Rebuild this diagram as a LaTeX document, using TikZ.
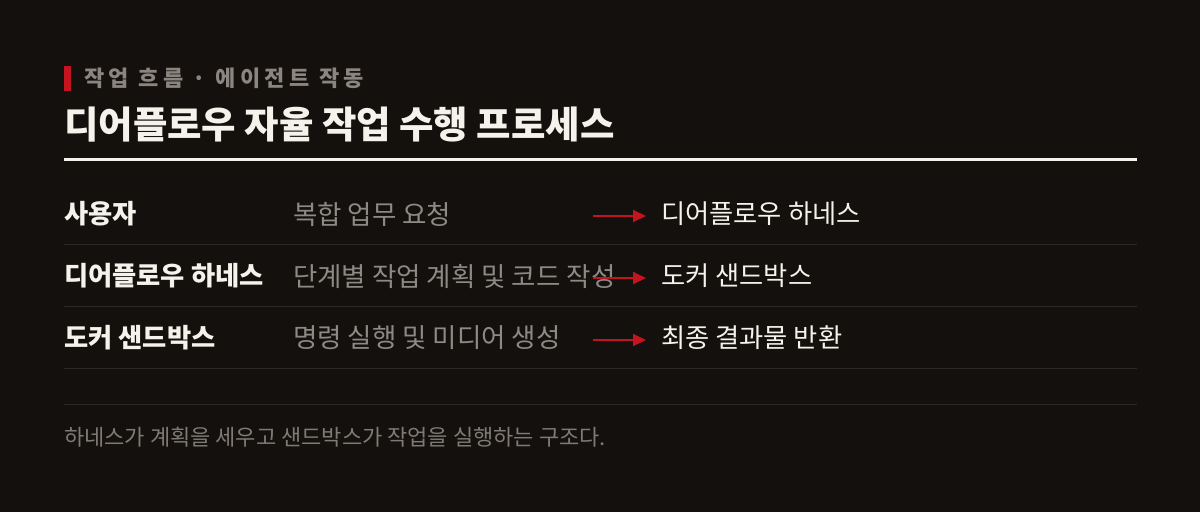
\documentclass[tikz,border=0pt]{standalone}
\usepackage{fontspec}
\usepackage{tikz}
\usetikzlibrary{positioning, arrows.meta}
\setmainfont{Noto Sans CJK KR}

\definecolor{bgdark}{HTML}{13100E}
\definecolor{accentred}{HTML}{C3141F}
\definecolor{paper}{HTML}{F5F2EC}
\definecolor{mutedgray}{HTML}{8D8985}
\definecolor{kickergray}{HTML}{8B8580}
\definecolor{footgray}{HTML}{7F7A75}
\definecolor{ruleline}{HTML}{2D2926}

\tikzset{
    role/.style={anchor=west, inner sep=0pt, text=paper, font=\fontsize{26.3}{30}\selectfont\bfseries},
    task/.style={anchor=west, inner sep=0pt, text=mutedgray, font=\fontsize{26.5}{30}\selectfont},
    target/.style={anchor=west, inner sep=0pt, text=paper, font=\fontsize{26.3}{30}\selectfont},
    flow/.style={draw=accentred, line width=2pt, -{Triangle[length=13pt, width=12pt]}, shorten >=15pt},
    sepline/.style={draw=ruleline, line width=1pt}
}

\begin{document}
\begin{tikzpicture}[x=1pt, y=-1pt]
    \fill [bgdark] (0,0) rectangle (1200,512);
    \useasboundingbox (0,0) rectangle (1200,512);

    % header
    \fill [accentred] (64,66) rectangle (71,91);
    \node [anchor=west, inner sep=0pt, text=kickergray, font=\fontsize{22}{26}\selectfont\bfseries\addfontfeatures{LetterSpace=20}] (kicker) at (84,78) {작업 흐름 · 에이전트 작동};
    \node [anchor=west, inner sep=0pt, text=paper, font=\fontsize{37.4}{42}\selectfont\bfseries] (title) at (64,125) {디어플로우 자율 작업 수행 프로세스};
    \fill [paper] (64,158) rectangle (1137,161);

    % rows
    \node [role] (who1) at (64,214) {사용자};
    \node [task] (job1) at (293,214) {복합 업무 요청};
    \coordinate (from1) at (593,216);
    \node [target] (to1) at (661,214) {디어플로우 하네스};
    \draw [flow] (from1) -- (to1.west |- from1);
    \draw [sepline] (64,244.5) -- (1137,244.5);

    \node [role] (who2) at (64,276) {디어플로우 하네스};
    \node [task] (job2) at (293,276) {단계별 작업 계획 및 코드 작성};
    \coordinate (from2) at (593,278);
    \node [target] (to2) at (661,276) {도커 샌드박스};
    \draw [flow] (from2) -- (to2.west |- from2);
    \draw [sepline] (64,306.5) -- (1137,306.5);

    \node [role] (who3) at (64,338) {도커 샌드박스};
    \node [task] (job3) at (293,338) {명령 실행 및 미디어 생성};
    \coordinate (from3) at (593,340);
    \node [target] (to3) at (661,338) {최종 결과물 반환};
    \draw [flow] (from3) -- (to3.west |- from3);
    \draw [sepline] (64,368.5) -- (1137,368.5);

    % footer
    \draw [sepline] (64,404.5) -- (1137,404.5);
    \node [anchor=west, inner sep=0pt, text=footgray, font=\fontsize{22}{26}\selectfont] (note) at (64,437) {하네스가 계획을 세우고 샌드박스가 작업을 실행하는 구조다.};
\end{tikzpicture}
\end{document}
